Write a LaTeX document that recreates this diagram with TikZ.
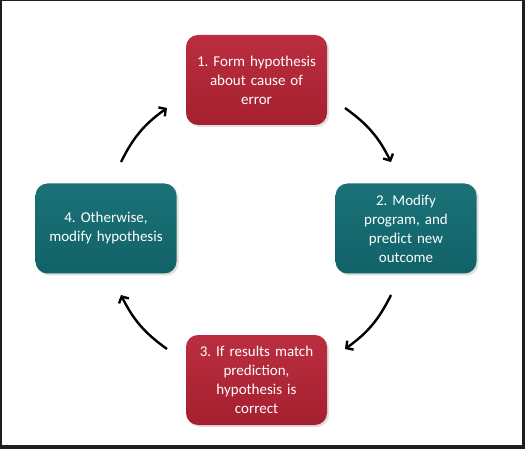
\documentclass[tikz,border=0pt]{standalone}
\usepackage{fontspec}
\setmainfont{Carlito}
\usetikzlibrary{arrows.meta,shadows}
\definecolor{framedark}{HTML}{1E1E1E}
\definecolor{redtop}{HTML}{BA2E40}
\definecolor{redbot}{HTML}{A5202F}
\definecolor{tealtop}{HTML}{1A7277}
\definecolor{tealbot}{HTML}{116268}
\tikzset{
  stepbox/.style={rectangle, rounded corners=12pt, minimum width=141pt, minimum height=90pt,
    text width=134pt, align=center, text=white, inner sep=0pt,
    font=\fontsize{15}{19}\selectfont,
    drop shadow={opacity=0.25, shadow xshift=2pt, shadow yshift=-2pt}},
  redbox/.style={stepbox, top color=redtop, bottom color=redbot},
  tealbox/.style={stepbox, top color=tealtop, bottom color=tealbot},
  cyclearrow/.style={line width=2.4pt, -{Straight Barb[length=5pt,width=11pt]}, bend left=14}
}
\begin{document}
\frenchspacing
\begin{tikzpicture}[x=1pt,y=-1pt]
\useasboundingbox (0,0) rectangle (525,449);
\fill[framedark] (0,0) rectangle (525,449);
\fill[white] (2,1) rectangle (522,445);
\node[redbox]  (n1) at (256.5,80)  {1. Form hypothesis\\about cause of\\error};
\node[tealbox] (n2) at (406,228.5) {2. Modify\\program, and\\predict new\\outcome};
\node[redbox]  (n3) at (256.5,380) {3. If results match\\prediction,\\hypothesis is\\correct};
\node[tealbox] (n4) at (106,228.5) {4. Otherwise,\\modify hypothesis};
\coordinate (a1s) at (345,108);
\coordinate (a1e) at (391,162);
\coordinate (a2s) at (391,295);
\coordinate (a2e) at (345,349);
\coordinate (a3s) at (167,349);
\coordinate (a3e) at (121,295);
\coordinate (a4s) at (121,162);
\coordinate (a4e) at (167,108);
\draw[cyclearrow] (a1s) to (a1e);
\draw[cyclearrow] (a2s) to (a2e);
\draw[cyclearrow] (a3s) to (a3e);
\draw[cyclearrow] (a4s) to (a4e);
\end{tikzpicture}
\end{document}
